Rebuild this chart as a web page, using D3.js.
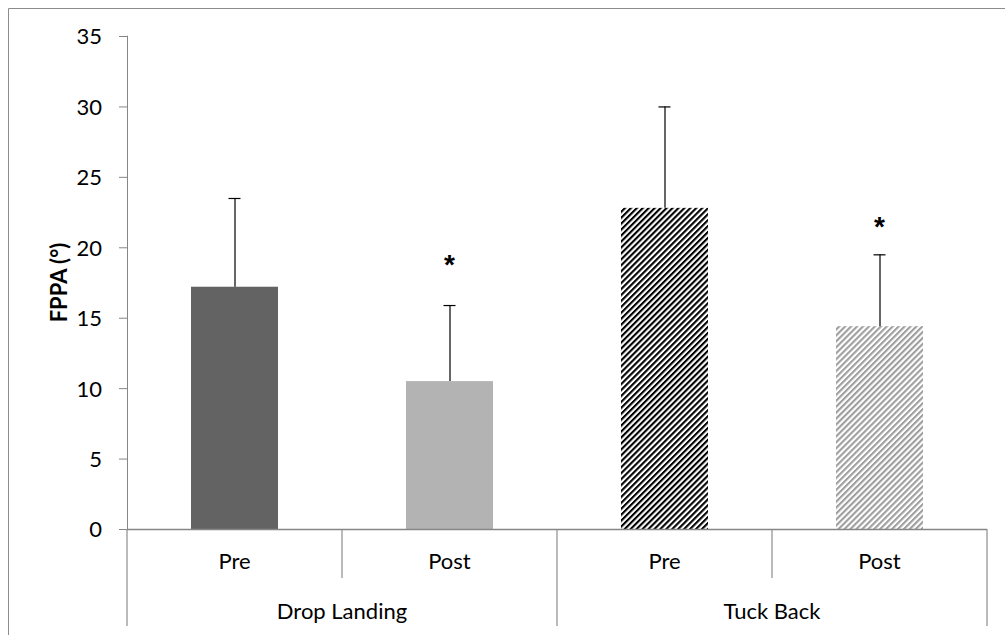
<!DOCTYPE html>
<html><head><meta charset="utf-8">
<script src="https://cdn.jsdelivr.net/npm/d3@7"></script>
<style>body{margin:0;background:#fff;} svg{display:block;font-family:Lato, "Open Sans", sans-serif;}</style>
</head><body>
<svg id="c" width="1005" height="635"></svg>
<script>
const groups = ["Drop Landing", "Tuck Back"];
const phases = ["Pre", "Post"];
const means = [17.2, 10.5, 22.8, 14.4];
const sds = [6.3, 5.4, 7.2, 5.1];
const starAt = [null, 19.1, null, 21.8];
const fills = ["#636363", "#b3b3b3", "hatch-dark", "hatch-light"];
const yTicks = [0, 5, 10, 15, 20, 25, 30, 35];

const svg = d3.select("#c");
const m = {l: 127, r: 987, t: 36, b: 529};
const FS = 22;

// outer border
svg.append("path").attr("d", "M8.5,635 V8.5 H1005").attr("fill", "none").attr("stroke", "#8c8c8c").attr("stroke-width", 1);

const defs = svg.append("defs");
function hatch(id, col) {
  const p = defs.append("pattern").attr("id", id).attr("patternUnits", "userSpaceOnUse")
    .attr("width", 4.2).attr("height", 4.2).attr("patternTransform", "rotate(45)");
  p.append("rect").attr("width", 4.2).attr("height", 4.2).attr("fill", "#fff");
  p.append("rect").attr("width", 2.1).attr("height", 4.2).attr("fill", col);
}
hatch("hatch-dark", "#000");
hatch("hatch-light", "#9e9e9e");

const labels = [];
groups.forEach(g => phases.forEach(p => labels.push(g + "|" + p)));

const x = d3.scaleBand().domain(labels).range([m.l, m.r]).paddingInner(0).paddingOuter(0);
const y = d3.scaleLinear().domain([0, 35]).range([m.b, m.t]);

// y axis
const ya = svg.append("g").attr("transform", `translate(${m.l},0)`)
  .call(d3.axisLeft(y).tickValues(yTicks).tickSize(8).tickPadding(17));
ya.attr("font-size", null).attr("font-family", null);
ya.select(".domain").attr("stroke", "#868686").attr("d", `M-0,${m.t}H0.5V${m.b}`);
ya.selectAll(".tick line").attr("stroke", "#868686");
ya.selectAll(".tick text").attr("font-size", FS).attr("fill", "#000").attr("dy", "0.36em");

// bars
const bw = 87;
labels.forEach((k, i) => {
  const cx = x(k) + x.bandwidth() / 2;
  const f = fills[i].startsWith("hatch") ? `url(#${fills[i]})` : fills[i];
  svg.append("rect").attr("x", cx - bw / 2).attr("y", y(means[i])).attr("width", bw)
    .attr("height", y(0) - y(means[i])).attr("fill", f);
  // error bar
  const top = y(means[i] + sds[i]);
  svg.append("line").attr("x1", cx + 0.5).attr("x2", cx + 0.5).attr("y1", y(means[i])).attr("y2", top)
    .attr("stroke", "#000").attr("stroke-width", 1.2);
  svg.append("line").attr("x1", cx - 6).attr("x2", cx + 6).attr("y1", top + 0.5).attr("y2", top + 0.5)
    .attr("stroke", "#000").attr("stroke-width", 1.2);
  if (starAt[i] !== null) {
    svg.append("text").attr("x", cx).attr("y", y(starAt[i]) + 14).attr("text-anchor", "middle")
      .attr("font-size", 28).attr("font-weight", "bold").attr("font-family", "Liberation Sans").text("*");
  }
});

// x axis line
svg.append("line").attr("x1", m.l).attr("x2", m.r).attr("y1", m.b + 0.5).attr("y2", m.b + 0.5)
  .attr("stroke", "#868686").attr("stroke-width", 1.5);

// category separators
const ax = svg.append("g").attr("stroke", "#8c8c8c").attr("stroke-width", 1.2);
labels.forEach((k, i) => {
  const xl = x(k);
  const isGroupStart = i % 2 === 0;
  ax.append("line").attr("x1", xl).attr("x2", xl).attr("y1", m.b).attr("y2", isGroupStart ? 626 : 578);
});
ax.append("line").attr("x1", m.r).attr("x2", m.r).attr("y1", m.b).attr("y2", 626);

// phase labels
labels.forEach((k, i) => {
  svg.append("text").attr("x", x(k) + x.bandwidth() / 2).attr("y", 569).attr("text-anchor", "middle")
    .attr("font-size", FS).text(phases[i % 2]);
});
groups.forEach((g, gi) => {
  const x0 = x(g + "|Pre"), x1 = x(g + "|Post") + x.bandwidth();
  svg.append("text").attr("x", (x0 + x1) / 2).attr("y", 619).attr("text-anchor", "middle")
    .attr("font-size", FS).text(g);
});

// y label
svg.append("text").attr("transform", `translate(67,${(m.t + m.b) / 2}) rotate(-90)`)
  .attr("text-anchor", "middle").attr("font-size", 22).attr("font-weight", "bold").text("FPPA (°)");
</script>
</body></html>
